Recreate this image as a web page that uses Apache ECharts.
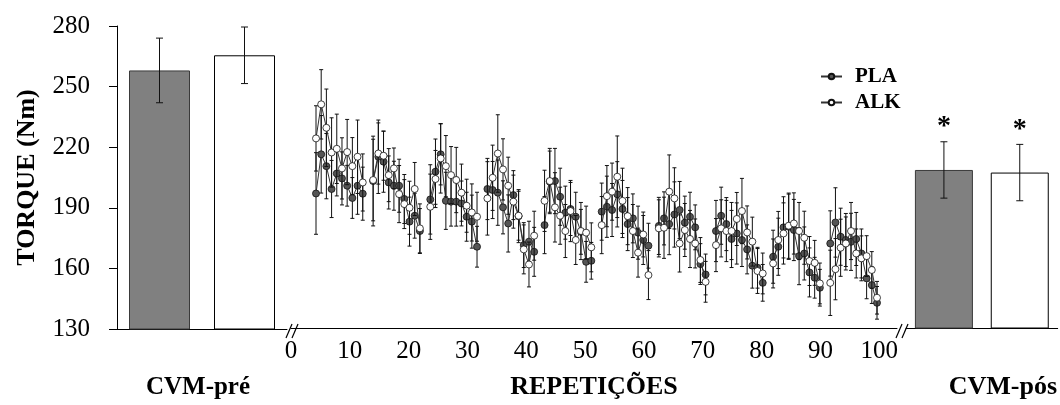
<!DOCTYPE html>
<html>
<head>
<meta charset="utf-8">
<title>Torque</title>
<script src="https://cdn.jsdelivr.net/npm/echarts@6/dist/echarts.min.js"></script>
<style>
    html, body { margin: 0; padding: 0; background: #fff; }
    #chart { width: 1060px; height: 405px; }
</style>
</head>
<body>
<div id="chart"></div>
<script>
// CVM bars (PLA, ALK)
var barNames = ['PLA', 'ALK'];
var cvmPre = [258, 265.5];
var cvmPreSd = [16, 14];
var cvmPos = [208.5, 207.2];
var cvmPosSd = [14, 14];

// 100 repeticoes, 10 blocos de 10
var pla = [
    197.9, 217.1, 211.3, 200.1, 207.7, 205.3, 201.7, 195.7, 201.7, 197.8,
    204.0, 215.9, 213.5, 203.3, 201.7, 201.7, 195.2, 184.1, 187.0, 179.5,
    195.0, 208.6, 217.1, 194.3, 193.9, 193.9, 193.0, 186.5, 184.1, 171.8,
    200.1, 199.6, 198.3, 191.1, 183.2, 197.1, 186.8, 172.6, 174.3, 169.3,
    182.4, 203.7, 204.0, 196.3, 188.5, 190.3, 186.5, 179.1, 164.4, 164.9,
    189.0, 191.4, 189.8, 197.5, 190.3, 182.9, 185.7, 178.7, 175.1, 172.3,
    182.0, 185.7, 182.9, 187.6, 189.8, 183.6, 186.5, 181.3, 163.3, 158.2,
    179.5, 187.0, 182.9, 175.6, 178.3, 175.1, 170.5, 162.5, 161.5, 154.1,
    166.9, 171.8, 181.3, 181.6, 180.0, 167.2, 168.5, 159.2, 156.6, 151.7,
    173.4, 183.7, 176.7, 175.1, 174.2, 175.6, 168.5, 156.3, 153.0, 144.3
];
var plaSd = [
    20, 19, 16, 14, 11, 13, 10, 10, 14, 13,
    22, 18, 15, 13, 12, 13, 12, 12, 11, 11,
    17, 16, 15, 14, 12, 12, 11, 12, 13, 10,
    15, 14, 16, 13, 14, 12, 13, 11, 10, 12,
    14, 15, 16, 14, 13, 13, 12, 11, 10, 9,
    14, 15, 13, 16, 14, 13, 12, 13, 12, 11,
    14, 13, 15, 16, 14, 13, 12, 11, 10, 10,
    15, 14, 13, 14, 15, 13, 12, 11, 10, 9,
    13, 14, 15, 16, 15, 14, 13, 12, 10, 9,
    16, 17, 14, 13, 14, 13, 12, 10, 9, 8
];
var alk = [
    224.9, 241.6, 230.1, 218.0, 219.8, 210.2, 218.2, 211.3, 215.9, 203.3,
    204.5, 217.5, 216.4, 206.9, 210.2, 197.6, 192.7, 190.9, 200.1, 180.8,
    191.4, 205.0, 215.1, 211.3, 206.9, 204.5, 198.3, 191.9, 188.6, 186.5,
    195.5, 205.6, 217.5, 209.7, 201.7, 193.9, 187.0, 170.5, 163.1, 177.2,
    194.3, 204.0, 191.1, 187.0, 179.5, 189.3, 175.1, 179.5, 178.7, 171.5,
    182.4, 196.6, 198.8, 206.1, 194.3, 186.8, 179.5, 168.9, 177.8, 157.9,
    180.8, 181.1, 198.8, 195.5, 173.4, 180.0, 175.6, 173.4, 165.3, 154.6,
    172.6, 180.8, 179.5, 179.5, 185.4, 189.3, 178.8, 174.3, 159.9, 158.7,
    163.6, 175.1, 178.3, 182.1, 183.2, 179.5, 176.2, 164.8, 163.9, 153.8,
    154.1, 160.8, 171.3, 173.4, 179.5, 168.5, 166.1, 167.2, 160.4, 146.8
];
var alkSd = [
    16, 17, 19, 17, 17, 15, 16, 14, 18, 14,
    20, 15, 12, 13, 10, 14, 12, 13, 13, 12,
    16, 14, 17, 15, 14, 16, 14, 13, 14, 12,
    18, 16, 19, 15, 14, 13, 12, 12, 11, 12,
    15, 16, 17, 14, 13, 15, 12, 14, 13, 12,
    14, 15, 14, 20, 16, 14, 13, 12, 11, 12,
    14, 15, 18, 15, 14, 13, 14, 12, 11, 10,
    13, 14, 15, 14, 13, 16, 13, 12, 11, 10,
    12, 14, 15, 16, 15, 14, 13, 12, 11, 10,
    16, 15, 14, 13, 14, 12, 11, 10, 9, 8
];

var yMin = 130;
var yMax = 280;
var yStep = 30;
var repMax = 103;
var repStep = 10;

var FONT = "'Liberation Serif', 'Times New Roman', serif";
var blockSize = 10;

// one empty slot between blocks of repetitions
function slotOf(i) {
    return i + Math.floor(i / blockSize);
}

function buildSlots(n) {
    var slots = [];
    for (var i = 0; i < n; i++) {
        slots.push('r' + (i + 1));
        if (i % blockSize === blockSize - 1 && i < n - 1) {
            slots.push('gap' + i);
        }
    }
    return slots;
}

function padSeries(values) {
    var out = [];
    for (var i = 0; i < values.length; i++) {
        out.push(values[i]);
        if (i % blockSize === blockSize - 1 && i < values.length - 1) {
            out.push('-');
        }
    }
    return out;
}

function errData(values, sd, useSlots) {
    return values.map(function (v, i) {
        var x = useSlots ? slotOf(i) : i;
        return [x, v - sd[i], v + sd[i]];
    });
}

function errRender(capHalf) {
    return function (params, api) {
        var x = api.value(0);
        var lo = api.coord([x, api.value(1)]);
        var hi = api.coord([x, api.value(2)]);
        var style = { stroke: '#111', lineWidth: 1 };
        return {
            type: 'group',
            children: [
                { type: 'line', shape: { x1: hi[0], y1: hi[1], x2: lo[0], y2: lo[1] }, style: style },
                { type: 'line', shape: { x1: hi[0] - capHalf, y1: hi[1], x2: hi[0] + capHalf, y2: hi[1] }, style: style },
                { type: 'line', shape: { x1: lo[0] - capHalf, y1: lo[1], x2: lo[0] + capHalf, y2: lo[1] }, style: style }
            ]
        };
    };
}

var slots = buildSlots(pla.length);
var barColors = ['#808080', '#ffffff'];
var barBorders = ['#3a3a3a', '#000000'];

function barItems(values) {
    return values.map(function (v, i) {
        return {
            value: v,
            itemStyle: { color: barColors[i], borderColor: barBorders[i], borderWidth: 1 }
        };
    });
}

var hiddenY = function (idx) {
    return { gridIndex: idx, type: 'value', min: yMin, max: yMax, interval: yStep, show: false };
};

var chart = echarts.init(document.getElementById('chart'));

var option = {
    animation: false,
    backgroundColor: '#fff',
    grid: [
        { left: 117, top: 26, width: 170, height: 306 },
        { left: 316, top: 26, width: 561, height: 306 },
        { left: 291, top: 26, width: 606, height: 306 },
        { left: 906, top: 26, width: 162, height: 306 }
    ],
    legend: {
        data: ['PLA', 'ALK'],
        orient: 'vertical',
        left: 815,
        top: 61,
        itemWidth: 21,
        itemHeight: 7,
        itemGap: 5,
        textStyle: { fontFamily: FONT, fontSize: 21, fontWeight: 'bold', color: '#000', padding: [0, 0, 0, 8] }
    },
    xAxis: [
        {
            gridIndex: 0,
            type: 'category',
            data: barNames,
            axisLine: { lineStyle: { color: '#000', width: 1 } },
            axisTick: { show: false },
            axisLabel: { show: false },
            name: 'CVM-pré',
            nameLocation: 'middle',
            nameGap: 46,
            nameTextStyle: { fontFamily: FONT, fontSize: 25, fontWeight: 'bold', color: '#000', padding: [0, 8, 0, 0] }
        },
        {
            gridIndex: 1,
            type: 'category',
            data: slots,
            boundaryGap: false,
            show: false
        },
        {
            gridIndex: 2,
            type: 'value',
            min: 0,
            max: repMax,
            interval: repStep,
            splitLine: { show: false },
            axisLine: { lineStyle: { color: '#000', width: 1 } },
            axisTick: { show: false },
            axisLabel: { fontFamily: FONT, fontSize: 25, color: '#000', margin: 11, showMaxLabel: false },
            name: 'REPETIÇÕES',
            nameLocation: 'middle',
            nameGap: 46,
            nameTextStyle: { fontFamily: FONT, fontSize: 26, fontWeight: 'bold', color: '#000' }
        },
        {
            gridIndex: 3,
            type: 'category',
            data: barNames,
            axisLine: { lineStyle: { color: '#000', width: 1 } },
            axisTick: { show: false },
            axisLabel: { show: false },
            name: 'CVM-pós',
            nameLocation: 'middle',
            nameGap: 46,
            nameTextStyle: { fontFamily: FONT, fontSize: 26, fontWeight: 'bold', color: '#000', padding: [0, 0, 0, 42] }
        }
    ],
    yAxis: [
        {
            gridIndex: 0,
            type: 'value',
            min: yMin,
            max: yMax,
            interval: yStep,
            splitLine: { show: false },
            axisLine: { show: true, lineStyle: { color: '#000', width: 1 } },
            axisTick: { show: true, inside: false, length: 8, lineStyle: { color: '#000' } },
            axisLabel: { fontFamily: FONT, fontSize: 25, color: '#000', margin: 27 },
            name: 'TORQUE (Nm)',
            nameLocation: 'middle',
            nameGap: 77,
            nameTextStyle: { fontFamily: FONT, fontSize: 26, fontWeight: 'bold', color: '#000' }
        },
        hiddenY(1),
        hiddenY(2),
        hiddenY(3)
    ],
    graphic: [
        {
            type: 'group',
            children: [
                { type: 'line', shape: { x1: 286, y1: 338, x2: 292, y2: 324 }, style: { stroke: '#000', lineWidth: 1.2 } },
                { type: 'line', shape: { x1: 292, y1: 338, x2: 298, y2: 324 }, style: { stroke: '#000', lineWidth: 1.2 } },
                { type: 'line', shape: { x1: 896, y1: 338, x2: 902, y2: 324 }, style: { stroke: '#000', lineWidth: 1.2 } },
                { type: 'line', shape: { x1: 902, y1: 338, x2: 908, y2: 324 }, style: { stroke: '#000', lineWidth: 1.2 } }
            ]
        }
    ],
    series: [
        {
            name: 'CVM-pré',
            type: 'bar',
            xAxisIndex: 0,
            yAxisIndex: 0,
            barWidth: 61,
            data: barItems(cvmPre)
        },
        {
            name: 'erro pré',
            type: 'custom',
            xAxisIndex: 0,
            yAxisIndex: 0,
            renderItem: errRender(3.5),
            encode: { x: 0, y: [1, 2] },
            data: errData(cvmPre, cvmPreSd, false),
            z: 3
        },
        {
            name: 'erro PLA',
            type: 'custom',
            xAxisIndex: 1,
            yAxisIndex: 1,
            renderItem: errRender(2),
            encode: { x: 0, y: [1, 2] },
            data: errData(pla, plaSd, true),
            z: 2
        },
        {
            name: 'PLA',
            type: 'line',
            xAxisIndex: 1,
            yAxisIndex: 1,
            data: padSeries(pla),
            symbol: 'circle',
            symbolSize: 7,
            showAllSymbol: true,
            connectNulls: false,
            lineStyle: { color: '#333', width: 1 },
            itemStyle: { color: '#555555', borderColor: '#111', borderWidth: 0.8 },
            z: 3
        },
        {
            name: 'erro ALK',
            type: 'custom',
            xAxisIndex: 1,
            yAxisIndex: 1,
            renderItem: errRender(2),
            encode: { x: 0, y: [1, 2] },
            data: errData(alk, alkSd, true),
            z: 4
        },
        {
            name: 'ALK',
            type: 'line',
            xAxisIndex: 1,
            yAxisIndex: 1,
            data: padSeries(alk),
            symbol: 'circle',
            symbolSize: 7,
            showAllSymbol: true,
            connectNulls: false,
            lineStyle: { color: '#333', width: 1 },
            itemStyle: { color: '#ffffff', borderColor: '#111', borderWidth: 0.8 },
            z: 5
        },
        {
            name: 'CVM-pós',
            type: 'bar',
            xAxisIndex: 3,
            yAxisIndex: 3,
            barWidth: 58,
            data: barItems(cvmPos),
            label: {
                show: true,
                position: 'top',
                distance: 29,
                formatter: '*',
                fontFamily: FONT,
                fontSize: 28,
                fontWeight: 'bold',
                color: '#000'
            }
        },
        {
            name: 'erro pós',
            type: 'custom',
            xAxisIndex: 3,
            yAxisIndex: 3,
            renderItem: errRender(3.5),
            encode: { x: 0, y: [1, 2] },
            data: errData(cvmPos, cvmPosSd, false),
            z: 3
        }
    ]
};

chart.setOption(option);
</script>
</body>
</html>
